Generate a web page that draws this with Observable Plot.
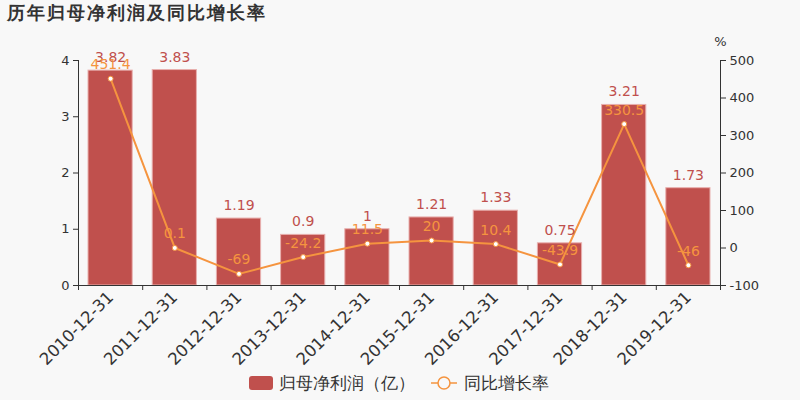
<!DOCTYPE html>
<html>
<head>
<meta charset="utf-8">
<script src="https://cdn.jsdelivr.net/npm/d3@7"></script>
<script src="https://cdn.jsdelivr.net/npm/@observablehq/plot@0.6"></script>
<style>
  html, body { margin: 0; padding: 0; background: #f8f8f8; }
  body { width: 800px; height: 400px; overflow: hidden; font-family: "DejaVu Sans", sans-serif; }
  #title { height: 36px; line-height: 26px; padding-left: 7px; font-size: 18px; font-weight: bold; color: #333; letter-spacing: 2px; }
  #chart svg { display: block; overflow: visible; }
  #legend { display: flex; justify-content: center; align-items: center; height: 34px; font-size: 17px; color: #333; margin-left: -2px; }
  .item { display: flex; align-items: center; margin: 0 8px; }
  .sw { width: 24px; height: 14px; background: #c0504d; border-radius: 3px; margin-right: 6px; }
</style>
</head>
<body>
<div id="title">历年归母净利润及同比增长率</div>
<div id="chart"></div>
<div id="legend">
  <div class="item"><div class="sw"></div>归母净利润（亿）</div>
  <div class="item"><svg width="26" height="16" style="margin-right:7px"><line x1="0" y1="8" x2="26" y2="8" stroke="#f5943f" stroke-width="1.5"/><circle cx="13" cy="8" r="6" fill="#f8f8f8" stroke="#f5943f" stroke-width="1.5"/></svg>同比增长率</div>
</div>
<script>
const dates = ["2010-12-31","2011-12-31","2012-12-31","2013-12-31","2014-12-31","2015-12-31","2016-12-31","2017-12-31","2018-12-31","2019-12-31"];
const profit = [3.82, 3.83, 1.19, 0.9, 1, 1.21, 1.33, 0.75, 3.21, 1.73];
const growth = [451.4, 0.1, -69, -24.2, 11.5, 20, 10.4, -43.9, 330.5, -46];
const leftTicks = [0, 1, 2, 3, 4];
const rightTicks = [-100, 0, 100, 200, 300, 400, 500];

// map right axis (-100..500) onto left scale (0..4)
const toY = p => (p + 100) / 600 * 4;
const fromY = y => Math.round(y * 150 - 100);

const data = dates.map((d, i) => ({i, date: d, profit: profit[i], growth: growth[i], gy: toY(growth[i])}));
const bounds = d3.range(dates.length + 1);
const centers = data.map(d => d.i + 0.5);

const barColor = "#c0504d";
const lineColor = "#f5943f";
const axisColor = "#333";

const chart = Plot.plot({
  width: 800,
  height: 330,
  marginTop: 24,
  marginBottom: 81,
  marginLeft: 78,
  marginRight: 80,
  style: {background: "transparent", fontFamily: "DejaVu Sans, sans-serif", color: axisColor, overflow: "visible"},
  x: {type: "linear", domain: [0, dates.length], axis: null, label: null},
  y: {domain: [0, 4], axis: null, label: null},
  marks: [
    Plot.rectY(data, {x1: "i", x2: d => d.i + 1, y: "profit", fill: barColor, stroke: "#e8b0ae", strokeWidth: 1, insetLeft: 10, insetRight: 10}),
    Plot.line(data, {x: d => d.i + 0.5, y: "gy", stroke: lineColor, strokeWidth: 2}),
    Plot.dot(data, {x: d => d.i + 0.5, y: "gy", r: 2.5, fill: "white", stroke: lineColor, strokeWidth: 1}),
    Plot.text(data, {x: d => d.i + 0.5, y: "profit", text: d => String(d.profit), dy: -13, fill: barColor, fontSize: 14}),
    Plot.text(data, {x: d => d.i + 0.5, y: "gy", text: d => String(d.growth), dy: -14, fill: lineColor, fontSize: 14}),
    Plot.ruleX([0, dates.length], {stroke: axisColor, strokeWidth: 1}),
    Plot.ruleY([0], {stroke: axisColor, strokeWidth: 1}),
    Plot.axisY(leftTicks, {anchor: "left", tickSize: 5, tickPadding: 4, fontSize: 13, tickFormat: d => String(d), label: null, stroke: axisColor, fill: axisColor}),
    Plot.axisY(rightTicks.map(toY), {anchor: "right", tickSize: 5, tickPadding: 4, fontSize: 13, tickFormat: fromY, label: null, stroke: axisColor, fill: axisColor}),
    Plot.axisX(bounds, {anchor: "bottom", tickSize: 5, tickFormat: () => "", label: null, stroke: axisColor}),
    Plot.axisX(centers, {anchor: "bottom", tickSize: 0, tickPadding: 9, tickRotate: -45, fontSize: 16.5, label: null, tickFormat: d => dates[Math.floor(d)], fill: axisColor}),
    Plot.text(["%"], {frameAnchor: "top-right", dx: 0, dy: -24, text: d => d, fontSize: 13, fill: axisColor, textAnchor: "middle"})
  ]
});
document.getElementById("chart").appendChild(chart);
</script>
</body>
</html>
